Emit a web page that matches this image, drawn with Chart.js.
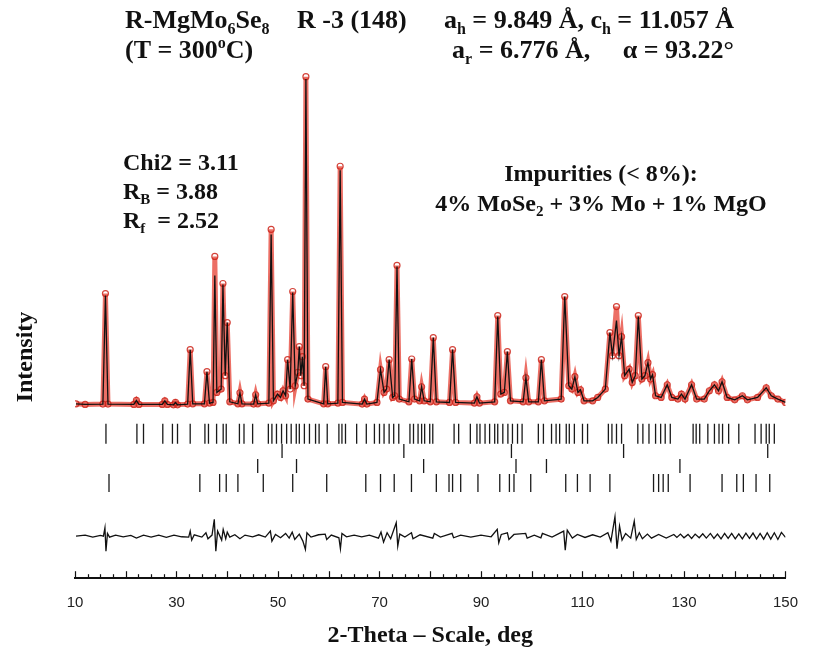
<!DOCTYPE html>
<html>
<head>
<meta charset="utf-8">
<script src="https://cdn.jsdelivr.net/npm/chart.js@4/dist/chart.umd.min.js"></script>
<style>
  html, body { margin: 0; background: #fff; }
  canvas { display: block; }
</style>
</head>
<body>
<canvas id="myChart" width="814" height="650"></canvas>
<script>
// calculated profile, [2theta, counts]
const calcProfile = [
  [10.2, 6], [12, 4], [15.5, 5], [16.0, 330], [16.5, 5], [21.6, 4], [22.1, 16], [22.6, 4],
  [27.2, 4], [27.7, 15], [28.2, 4], [29.4, 3], [29.8, 10], [30.2, 3], [32.2, 5], [32.7, 168],
  [33.2, 6], [35.5, 6], [36.0, 102], [36.5, 8], [37.2, 10], [37.55, 390], [37.95, 40], [38.8, 50],
  [39.15, 363], [39.6, 90], [40.0, 249], [40.5, 12], [42.1, 6], [42.5, 39], [42.9, 6], [45.2, 5],
  [45.6, 33], [46.0, 6], [48.2, 8], [48.65, 513], [49.1, 15], [49.9, 35], [50.5, 25], [51.0, 45],
  [51.5, 30], [51.9, 138], [52.4, 50], [52.9, 339], [53.4, 60], [53.9, 100], [54.2, 177], [54.5, 90],
  [54.8, 147], [55.15, 60], [55.5, 978], [55.9, 20], [59.0, 6], [59.4, 117], [59.8, 6], [61.8, 8],
  [62.25, 705], [62.7, 10], [66.6, 5], [67.05, 20], [67.5, 5], [69.5, 10], [70.2, 108], [70.9, 40],
  [71.4, 50], [71.9, 138], [72.6, 25], [73.0, 30], [73.45, 417], [73.9, 20], [75.8, 12], [76.35, 140],
  [76.9, 20], [77.9, 15], [78.3, 57], [78.8, 15], [80.0, 12], [80.6, 204], [81.2, 12], [83.8, 10],
  [84.4, 168], [85.0, 10], [88.7, 8], [89.2, 27], [89.7, 8], [92.7, 12], [93.3, 267], [93.9, 35],
  [94.6, 40], [95.2, 162], [95.8, 15], [98.3, 12], [98.85, 84], [99.4, 12], [101.3, 12], [101.9, 138],
  [102.5, 15], [105.8, 20], [106.5, 327], [107.3, 60], [107.9, 50], [108.5, 87], [109.1, 40], [109.6, 48],
  [110.3, 15], [112.0, 15], [113.0, 25], [114.5, 50], [115.4, 219], [115.9, 150], [116.7, 255], [117.2, 150],
  [117.7, 207], [118.3, 90], [119.2, 110], [119.8, 70], [120.4, 90], [121.0, 267], [121.7, 80], [122.3, 90],
  [122.9, 129], [123.4, 80], [123.8, 93], [124.4, 30], [125.5, 25], [126.7, 63], [127.6, 25], [128.8, 20],
  [129.5, 35], [130.2, 20], [131.5, 63], [132.5, 20], [134.0, 20], [135.0, 45], [136.0, 63], [136.8, 45],
  [137.5, 72], [138.5, 25], [140.0, 18], [141.5, 30], [142.5, 18], [144.5, 25], [146.2, 54], [147.2, 30],
  [148.5, 20], [150, 10]
];

// observed tops that sit above the calculated curve
const obsTops = [
  [16.0, 336], [37.55, 447], [39.15, 366], [48.65, 528], [52.9, 342], [55.5, 985],
  [62.25, 717], [73.45, 420], [93.3, 270], [116.7, 297], [121.0, 270]
];

// difference Yobs - Ycalc
const diffProfile = [
  [10.2, 0], [12, 3], [13.5, -3], [15, 2], [15.6, 0], [15.9, 25], [16.1, -45], [16.4, 8], [16.8, -3],
  [18, 3], [19.5, -2], [21, 2], [22.1, -6], [23.5, 3], [25, -3], [26.5, 3], [28, -4], [29.5, 3],
  [31, -2], [32.4, -3], [32.7, 15], [33.0, -12], [33.5, 4], [35, -3], [35.8, 10], [36.2, -8],
  [37.0, 3], [37.45, 50], [37.75, -45], [38.1, 15], [38.9, -12], [39.2, 20], [39.7, -8], [40.0, 12],
  [40.5, -3], [41.5, 4], [42.5, -8], [43.5, 3], [45, -2], [46.2, 4], [47.5, -3], [48.5, 15],
  [48.8, -15], [49.5, 5], [50.5, -5], [51.5, 8], [52.2, -6], [52.8, 12], [53.3, -10], [54.2, 6],
  [54.9, -15], [55.4, -40], [55.7, 10], [56.5, -3], [58, 4], [59.3, 6], [59.6, -10], [60.5, 3],
  [62.0, -5], [62.3, -38], [62.6, 8], [63.5, -2], [65, 3], [66.5, -2], [68, 3], [69.8, -6],
  [70.3, 12], [70.8, -18], [71.5, 10], [72.2, -8], [73.3, 40], [73.6, -30], [74.0, 6], [75, -3],
  [76.3, 10], [76.6, -8], [78, 4], [80.5, -6], [80.8, 8], [82, -3], [84.3, 8], [84.6, -5],
  [86, 3], [88, -3], [90, 3], [92, -2], [93.2, 20], [93.5, -20], [94, 5], [95.2, 10],
  [95.5, -10], [96.5, 5], [98.8, 8], [99.1, -6], [100.5, 3], [101.8, -5], [102.1, 8], [104, -3],
  [106.3, 15], [106.6, -42], [107, 18], [108, -6], [109, 5], [110.5, -4], [112, 4], [113.5, -3],
  [115.0, 10], [115.6, -15], [116.4, 58], [116.8, -38], [117.3, 30], [117.8, -12], [118.5, 8], [119.5, -6],
  [120.2, 45], [120.6, -10], [121.2, 10], [121.8, -8], [122.8, 6], [123.6, -6], [125, 5], [126.5, -6],
  [128, 5], [128.6, -4], [129.3, 6], [130, -5], [130.8, 5], [131.5, -7], [132.2, 6], [133, -5],
  [133.7, 7], [134.4, -6], [135.2, 8], [135.9, -7], [136.6, 6], [137.3, -8], [138, 8], [138.7, -7],
  [139.4, 8], [140.1, -8], [140.8, 7], [141.5, -8], [142.2, 9], [142.9, -7], [143.6, 9], [144.3, -9],
  [145, 8], [145.7, -9], [146.4, 10], [147.1, -9], [147.8, 10], [148.5, -10], [149.2, 11], [150, -4]
];

// Bragg reflection positions
const braggMain = [
  16.1, 22.2, 23.5, 27.3, 29.2, 30.2, 32.7, 35.6, 36.3, 37.9, 39.2, 39.8, 42.4, 43.3, 45.0, 48.1,
  48.8, 49.7, 50.7, 51.7, 52.6, 53.6, 54.2, 55.2, 56.2, 57.4, 58.1, 59.7, 62.0, 62.6, 63.3, 65.5,
  67.4, 69.0, 70.0, 70.9, 71.9, 72.8, 73.8, 76.0, 76.7, 77.6, 78.3, 78.9, 79.9, 80.5, 84.7, 85.6,
  87.9, 89.2, 89.8, 90.8, 91.7, 92.7, 93.3, 94.3, 95.3, 96.2, 97.2, 98.1, 101.3, 102.3, 103.9, 104.8,
  105.5, 106.8, 107.4, 108.4, 110.0, 111.0, 115.1, 115.8, 116.7, 117.7, 120.9, 121.9, 123.1, 124.4,
  125.4, 126.3, 127.3, 131.8, 132.4, 133.1, 134.7, 136.0, 136.9, 137.6, 138.8, 140.8, 144.0, 145.2,
  146.2, 146.8, 147.8
];
const braggMgO = [50.8, 74.8, 96.0, 118.1, 146.5];
const braggMo = [46.0, 53.65, 78.7, 96.9, 102.9, 129.2];
const braggMoSe2 = [
  16.7, 34.6, 38.5, 39.8, 42.1, 47.1, 52.9, 59.6, 67.3, 70.2, 72.9, 76.3, 81.2, 83.7, 84.4, 86.0,
  89.4, 93.7, 95.6, 96.5, 99.8, 106.7, 109.0, 111.5, 115.4, 124.0, 125.0, 125.9, 126.9, 131.2, 137.5,
  140.4, 141.7, 144.2, 146.9
];

const xLabels = [10, 30, 50, 70, 90, 110, 130, 150];
const MINOR_STEP = 2.5;

// vertical placement of the lower panels (in count units)
const DIFF_OFFSET = -390;
const ROWS = [-84, -135, -180, -231];

const serif = '"Liberation Serif", "Times New Roman", serif';
const sans = '"Liberation Sans", Arial, sans-serif';

const toXY = (arr, off) => arr.map(p => ({ x: p[0], y: p[1] + (off || 0) }));
const obsProfile = calcProfile.map(p => {
  const t = obsTops.find(o => o[0] === p[0]);
  return t ? t : p;
});
const rowPts = (arr, y) => arr.map(v => ({ x: v, y: y }));

function drawRich(ctx, x, y, parts, size, align) {
  const big = 'bold ' + size + 'px ' + serif;
  const small = 'bold ' + Math.round(size * 0.62) + 'px ' + serif;
  let w = 0;
  parts.forEach(p => { ctx.font = p[1] ? small : big; w += ctx.measureText(p[0]).width; });
  let cx = align === 'center' ? x - w / 2 : align === 'right' ? x - w : x;
  ctx.textAlign = 'left';
  ctx.textBaseline = 'alphabetic';
  parts.forEach(p => {
    ctx.font = p[1] ? small : big;
    const dy = p[1] === 1 ? size * 0.22 : p[1] === 2 ? -size * 0.38 : 0;
    ctx.fillText(p[0], cx, y + dy);
    cx += ctx.measureText(p[0]).width;
  });
}

const annotations = {
  id: 'annotations',
  afterDraw(chart) {
    const ctx = chart.ctx;
    const xs = chart.scales.x;
    const bottom = chart.chartArea.bottom;
    ctx.save();
    // upward axis ticks
    ctx.strokeStyle = '#111';
    ctx.lineWidth = 1.2;
    for (let v = 10; v <= 150; v += MINOR_STEP) {
      const px = Math.round(xs.getPixelForValue(v)) + 0.5;
      const len = v % 10 === 0 ? 7 : 4;
      ctx.beginPath();
      ctx.moveTo(px, bottom);
      ctx.lineTo(px, bottom - len);
      ctx.stroke();
    }
    ctx.fillStyle = '#111';
    // header
    drawRich(ctx, 125, 28, [['R-MgMo', 0], ['6', 1], ['Se', 0], ['8', 1]], 26);
    drawRich(ctx, 297, 28, [['R -3 (148)', 0]], 26);
    drawRich(ctx, 734, 28, [['a', 0], ['h', 1], [' = 9.849 Å, c', 0], ['h', 1], [' = 11.057 Å', 0]], 26, 'right');
    drawRich(ctx, 125, 58, [['(T = 300', 0], ['o', 2], ['C)', 0]], 26);
    drawRich(ctx, 734, 58, [['a', 0], ['r', 1], [' = 6.776 Å,     α = 93.22°', 0]], 26, 'right');
    // fit statistics
    drawRich(ctx, 123, 170, [['Chi2 = 3.11', 0]], 24);
    drawRich(ctx, 123, 199, [['R', 0], ['B', 1], [' = 3.88', 0]], 24);
    drawRich(ctx, 123, 228, [['R', 0], ['f', 1], ['  = 2.52', 0]], 24);
    // impurities
    drawRich(ctx, 601, 181, [['Impurities (< 8%):', 0]], 24, 'center');
    drawRich(ctx, 601, 211, [['4% MoSe', 0], ['2', 1], [' + 3% Mo + 1% MgO', 0]], 24, 'center');
    // y label
    ctx.translate(32, 357);
    ctx.rotate(-Math.PI / 2);
    drawRich(ctx, 0, 0, [['Intensity', 0]], 24, 'center');
    ctx.restore();
  }
};

const tickStyle = (r) => ({
  type: 'scatter',
  pointStyle: 'line',
  rotation: 90,
  pointRadius: r,
  pointBorderColor: '#1a1a1a',
  pointBorderWidth: 1.3,
  showLine: false,
  order: 0
});

const ctx = document.getElementById('myChart');

new Chart(ctx, {
  type: 'scatter',
  data: {
    datasets: [
      {
        label: 'Ycalc',
        data: toXY(calcProfile),
        showLine: true,
        borderColor: '#111',
        borderWidth: 1.3,
        pointRadius: 0,
        order: 0
      },
      {
        label: 'Yobs',
        data: toXY(obsProfile),
        showLine: true,
        borderColor: 'rgba(228, 50, 35, 0.7)',
        borderWidth: 5,
        pointRadius: 3,
        pointBorderColor: 'rgba(205, 35, 25, 0.85)',
        pointBorderWidth: 1.2,
        pointBackgroundColor: 'rgba(255,255,255,0)',
        order: 1
      },
      {
        label: 'Yobs-Ycalc',
        data: toXY(diffProfile, DIFF_OFFSET),
        showLine: true,
        borderColor: '#111',
        borderWidth: 1.3,
        pointRadius: 0,
        order: 0
      },
      Object.assign({ label: 'R-MgMo6Se8', data: rowPts(braggMain, ROWS[0]) }, tickStyle(10)),
      Object.assign({ label: 'MgO', data: rowPts(braggMgO, ROWS[1]) }, tickStyle(7)),
      Object.assign({ label: 'Mo', data: rowPts(braggMo, ROWS[2]) }, tickStyle(7)),
      Object.assign({ label: 'MoSe2', data: rowPts(braggMoSe2, ROWS[3]) }, tickStyle(9))
    ]
  },
  options: {
    responsive: false,
    animation: false,
    layout: { padding: { top: 70, left: 75, right: 6, bottom: 0 } },
    plugins: {
      legend: { display: false },
      tooltip: { enabled: false }
    },
    scales: {
      x: {
        type: 'linear',
        min: 10,
        max: 150,
        afterBuildTicks: (scale) => { scale.ticks = xLabels.map(v => ({ value: v })); },
        grid: { display: false, drawTicks: false },
        border: { display: true, color: '#111', width: 2 },
        ticks: {
          padding: 16,
          color: '#222',
          font: { family: sans, size: 15 }
        },
        title: {
          display: true,
          text: '2-Theta – Scale, deg',
          color: '#111',
          padding: { top: -7, bottom: 0 },
          font: { family: serif, size: 24, weight: 'bold' }
        }
      },
      y: {
        display: false,
        min: -516,
        max: 1005
      }
    }
  },
  plugins: [annotations]
});
</script>
</body>
</html>
